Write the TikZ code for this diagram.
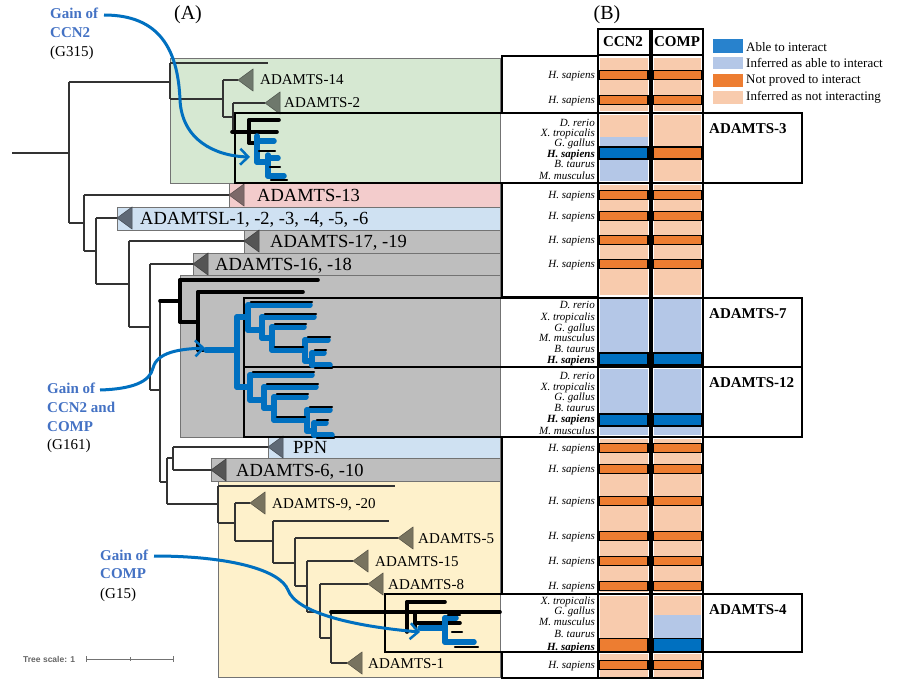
\documentclass[tikz,border=0pt]{standalone}
\usepackage{fontspec}
\setmainfont{Liberation Serif}
\newfontfamily\sansf{Liberation Sans}
\usetikzlibrary{arrows.meta}
\definecolor{grn}{RGB}{214,232,210}
\definecolor{pnk}{RGB}{243,204,204}
\definecolor{lbx}{RGB}{207,225,242}
\definecolor{gry}{RGB}{190,190,190}
\definecolor{ylw}{RGB}{254,241,203}
\definecolor{ablue}{RGB}{0,112,192}
\definecolor{legblue}{RGB}{40,130,205}
\definecolor{ilblue}{RGB}{180,199,231}
\definecolor{npor}{RGB}{237,125,49}
\definecolor{peach}{RGB}{248,203,173}
\definecolor{gaintxt}{RGB}{68,114,196}
\definecolor{trgrn}{RGB}{110,120,108}
\definecolor{trpnk}{RGB}{125,105,105}
\definecolor{trblu}{RGB}{95,105,118}
\definecolor{trgry}{RGB}{85,85,85}
\definecolor{trylw}{RGB}{120,115,95}
\tikzset{
  tr/.style={draw=black!80, line width=1.1pt},
  thk/.style={draw=black, line width=3.6pt, line cap=round},
  thn/.style={draw=black, line width=2.2pt, line cap=round},
  blu/.style={draw=ablue, line width=5.5pt, line cap=round},
  box/.style={draw=black!55, line width=0.7pt},
  bbox/.style={draw=black, line width=2pt},
  lbl/.style={font=\fontsize{18.5}{19}\selectfont, anchor=base west, yshift=-6.2pt, inner sep=0pt},
  slbl/.style={font=\fontsize{15}{15}\selectfont, anchor=base west, yshift=-5pt, inner sep=0pt},
  sp/.style={font=\fontsize{11}{11}\selectfont\itshape, anchor=base east, yshift=-3.6pt, inner sep=0pt},
  spb/.style={font=\fontsize{11}{11}\selectfont\bfseries\itshape, anchor=base east, yshift=-3.6pt, inner sep=0pt},
  hdr/.style={font=\fontsize{15}{15}\selectfont\bfseries, anchor=base, yshift=-5pt, inner sep=0pt},
  rlbl/.style={font=\fontsize{15}{15}\selectfont\bfseries, anchor=base west, yshift=-5pt, inner sep=0pt},
  leg/.style={font=\fontsize{13}{13}\selectfont, anchor=base west, yshift=-4.4pt, inner sep=0pt},
  gtxt/.style={font=\fontsize{15}{15}\selectfont\bfseries, text=gaintxt, anchor=base west, yshift=-5pt, inner sep=0pt},
  gid/.style={font=\fontsize{15}{15}\selectfont, anchor=base west, yshift=-5pt, inner sep=0pt},
  gain/.style={draw=ablue, line width=3pt, -{Straight Barb[length=8pt,width=16pt,line width=2.5pt]}},
}
\newcommand\tri[3]{\filldraw[fill=#3, draw=#3!70!black, line width=0.5pt] (#1,#2) -- ++(15,-11) -- ++(0,22) -- cycle;}
\newcommand\cells[4]{\fill[#3] (600,#1) rectangle (647.5,#2); \fill[#4] (654,#1) rectangle (700.5,#2);}
\newcommand\bars[4]{\filldraw[fill=#3, draw=black, line width=1.1pt] (599.5,#1-#2) rectangle (648,#1+#2);
  \filldraw[fill=#4, draw=black, line width=1.1pt] (653,#1-#2) rectangle (701.5,#1+#2);}
\newcommand\ladder{%
  \draw[blu] (0,0) -- (0,25); \draw[blu] (0,0) -- (62,0);
  \draw[blu] (0,25) -- (14,25); \draw[blu] (14,12) -- (14,33); \draw[blu] (14,12) -- (66,12);
  \draw[blu] (14,33) -- (24,33); \draw[blu] (24,22) -- (24,45); \draw[blu] (24,22) -- (56,22);
  \draw[blu] (24,45) -- (57,45); \draw[blu] (57,35) -- (57,56); \draw[blu] (57,35) -- (80,35);
  \draw[blu] (57,56) -- (64,56); \draw[blu] (64,48) -- (64,60); \draw[blu] (64,48) -- (76,48);
  \draw[blu] (64,60) -- (82,60);
  \draw[thn] (3,-3) -- (64,-3); \draw[thn] (17,9) -- (68,9); \draw[thn] (27,19) -- (58,19);
  \draw[thn] (27,42) -- (55,42); \draw[thn] (60,32) -- (82,32); \draw[thn] (67,45) -- (78,45);
  \draw[thn] (67,63) -- (84,63);
}
\begin{document}
\begin{tikzpicture}[x=1pt,y=-1pt]
\useasboundingbox (0,0) rectangle (899,679);
\fill[white] (0,0) rectangle (899,679);

% ---------- coloured clade boxes ----------
\filldraw[fill=grn, box] (170,58) rectangle (500,183);
\filldraw[fill=pnk, box] (229,183) rectangle (500,207);
\filldraw[fill=lbx, box] (117,207) rectangle (500,230);
\filldraw[fill=gry, box] (244,230) rectangle (500,253);
\filldraw[fill=gry, box] (193,253) rectangle (500,275);
\filldraw[fill=gry, box] (180,275) rectangle (500,437);
\filldraw[fill=lbx, box] (268,437) rectangle (500,458);
\filldraw[fill=gry, box] (211,458) rectangle (500,481);
\filldraw[fill=ylw, box] (218,481) rectangle (500,677);

% ---------- tree (thin) ----------
\draw[tr] (12,153) -- (69,153);
\draw[tr] (69,82) -- (69,223);
\draw[tr] (69,82) -- (170,82);
\draw[tr] (170,63) -- (170,99);
\draw[tr] (170,63) -- (268,63);
\draw[tr] (170,99) -- (223,99);
\draw[tr] (223,80) -- (223,117);
\draw[tr] (223,80) -- (238,80);
\draw[tr] (223,117) -- (233,117);
\draw[tr] (233,103) -- (233,132);
\draw[tr] (233,103) -- (265,103);
\draw[tr] (69,223) -- (84,223);
\draw[tr] (84,195) -- (84,251);
\draw[tr] (84,195) -- (229,195);
\draw[tr] (84,251) -- (96,251);
\draw[tr] (96,218) -- (96,284);
\draw[tr] (96,218) -- (117,218);
\draw[tr] (96,284) -- (129,284);
\draw[tr] (129,241) -- (129,327);
\draw[tr] (129,241) -- (244,241);
\draw[tr] (129,327) -- (150,327);
\draw[tr] (150,264) -- (150,390);
\draw[tr] (150,264) -- (193,264);
\draw[tr] (150,390) -- (160,390);
\draw[tr] (160,301) -- (160,482);
\draw[tr] (160,482) -- (167,482);
\draw[tr] (167,458) -- (167,504);
\draw[tr] (167,458) -- (173,458);
\draw[tr] (173,447) -- (173,470);
\draw[tr] (173,447) -- (268,447);
\draw[tr] (173,470) -- (211,470);
\draw[tr] (167,504) -- (218,504);
\draw[tr] (218,486) -- (218,523);
\draw[tr] (218,486) -- (395,486);
\draw[tr] (218,523) -- (235,523);
\draw[tr] (235,503) -- (235,541);
\draw[tr] (235,503) -- (250,503);
\draw[tr] (235,541) -- (273,541);
\draw[tr] (273,521) -- (273,563);
\draw[tr] (273,521) -- (389,521);
\draw[tr] (273,563) -- (295,563);
\draw[tr] (295,538) -- (295,586);
\draw[tr] (295,538) -- (398,538);
\draw[tr] (295,586) -- (307,586);
\draw[tr] (307,561) -- (307,612);
\draw[tr] (307,561) -- (353,561);
\draw[tr] (307,612) -- (320,612);
\draw[tr] (320,584) -- (320,638);
\draw[tr] (320,584) -- (368,584);
\draw[tr] (320,638) -- (331,638);
\draw[tr] (331,612) -- (331,663);
\draw[tr] (331,663) -- (347,663);

% ---------- collapsed clades ----------
\tri{238}{80}{trgrn}
\tri{265}{103}{trgrn}
\tri{229}{195}{trpnk}
\tri{117}{218}{trblu}
\tri{244}{241}{trgry}
\tri{193}{264}{trgry}
\tri{268}{447}{trblu}
\tri{211}{470}{trgry}
\tri{250}{503}{trylw}
\tri{398}{538}{trylw}
\tri{353}{561}{trylw}
\tri{368}{584}{trylw}
\tri{347}{663}{trylw}

\node[slbl] (l14) at (260,80) {ADAMTS-14};
\node[slbl] (l2) at (284,103) {ADAMTS-2};
\node[lbl] (l13) at (257,195) {ADAMTS-13};
\node[lbl] (lsl) at (140,218) {ADAMTSL-1, -2, -3, -4, -5, -6};
\node[lbl] (l17) at (270,241) {ADAMTS-17, -19};
\node[lbl] (l16) at (215,264) {ADAMTS-16, -18};
\node[lbl] (lppn) at (293,447) {PPN};
\node[lbl] (l6) at (236,470) {ADAMTS-6, -10};
\node[slbl] (l9) at (272,503) {ADAMTS-9, -20};
\node[slbl] (l5) at (418,538) {ADAMTS-5};
\node[slbl] (l15) at (375,561) {ADAMTS-15};
\node[slbl] (l8) at (388,584) {ADAMTS-8};
\node[slbl] (l1) at (368,663) {ADAMTS-1};

% ---------- panel B fills ----------
\cells{58}{111}{peach}{peach}
\cells{115}{181}{peach}{peach}
\fill[ilblue] (600,137) rectangle (647.5,181);
\cells{185}{295}{peach}{peach}
\cells{299}{365}{ilblue}{ilblue}
\cells{369}{435}{ilblue}{ilblue}
\cells{439}{592}{peach}{peach}
\cells{596}{650}{peach}{peach}
\fill[ilblue] (654,615) rectangle (700.5,650);
\cells{654}{677}{peach}{peach}

\bars{75}{4.5}{npor}{npor}
\bars{100}{4.5}{npor}{npor}
\bars{153}{6}{ablue}{npor}
\bars{195}{4.5}{npor}{npor}
\bars{216}{4.5}{npor}{npor}
\bars{240}{4.5}{npor}{npor}
\bars{264}{4.5}{npor}{npor}
\bars{359}{6}{ablue}{ablue}
\bars{420}{6}{ablue}{ablue}
\bars{448}{4.5}{npor}{npor}
\bars{469}{4.5}{npor}{npor}
\bars{501}{4.5}{npor}{npor}
\bars{536}{4.5}{npor}{npor}
\bars{561}{4.5}{npor}{npor}
\bars{586}{4.5}{npor}{npor}
\bars{645}{6.5}{npor}{ablue}
\bars{665}{4.5}{npor}{npor}

% columns
\draw[bbox] (597.5,29) rectangle (649.5,678);
\draw[bbox] (651.5,29) rectangle (702.5,678);
\draw[bbox] (597.5,55) -- (649.5,55);
\draw[bbox] (651.5,55) -- (702.5,55);
\node[hdr] (hc) at (623,42) {CCN2};
\node[hdr] (hp) at (677,42) {COMP};

% species boxes
\draw[bbox] (502,56) rectangle (597.5,113);
\draw[bbox] (502,183) rectangle (597.5,297);
\draw[bbox] (502,437) rectangle (597.5,594);
\draw[bbox] (502,652) rectangle (597.5,678);

% big clade boxes
\draw[bbox] (235,113) rectangle (802,183);
\draw[bbox] (244,298) rectangle (802,367);
\draw[bbox] (244,367) rectangle (802,437);
\draw[bbox] (385,594) rectangle (802,652);

\node[rlbl] (r3) at (709,129) {ADAMTS-3};
\node[rlbl] (r7) at (709,313) {ADAMTS-7};
\node[rlbl] (r12) at (709,382) {ADAMTS-12};
\node[rlbl] (r4) at (709,609) {ADAMTS-4};

% species labels
\node[sp] at (595,75) {H. sapiens};
\node[sp] at (595,100) {H. sapiens};
\node[sp] at (595,123) {D. rerio};
\node[sp] at (595,133) {X. tropicalis};
\node[sp] at (595,143) {G. gallus};
\node[spb] at (595,154) {H. sapiens};
\node[sp] at (595,164) {B. taurus};
\node[sp] at (595,176) {M. musculus};
\node[sp] at (595,195) {H. sapiens};
\node[sp] at (595,216) {H. sapiens};
\node[sp] at (595,240) {H. sapiens};
\node[sp] at (595,264) {H. sapiens};
\node[sp] at (595,305) {D. rerio};
\node[sp] at (595,317) {X. tropicalis};
\node[sp] at (595,328) {G. gallus};
\node[sp] at (595,338) {M. musculus};
\node[sp] at (595,349) {B. taurus};
\node[spb] at (595,360) {H. sapiens};
\node[sp] at (595,376) {D. rerio};
\node[sp] at (595,387) {X. tropicalis};
\node[sp] at (595,397) {G. gallus};
\node[sp] at (595,408) {B. taurus};
\node[spb] at (595,419) {H. sapiens};
\node[sp] at (595,431) {M. musculus};
\node[sp] at (595,448) {H. sapiens};
\node[sp] at (595,469) {H. sapiens};
\node[sp] at (595,501) {H. sapiens};
\node[sp] at (595,536) {H. sapiens};
\node[sp] at (595,561) {H. sapiens};
\node[sp] at (595,586) {H. sapiens};
\node[sp] at (595,601) {X. tropicalis};
\node[sp] at (595,611) {G. gallus};
\node[sp] at (595,622) {M. musculus};
\node[sp] at (595,634) {B. taurus};
\node[spb] at (595,647) {H. sapiens};
\node[sp] at (595,665) {H. sapiens};

% legend
\fill[legblue] (713,39) rectangle (743,53);
\fill[ilblue] (713,57) rectangle (743,69);
\fill[npor] (713,74) rectangle (743,87);
\fill[peach] (713,91) rectangle (743,104);
\node[leg] (g1) at (746,47) {Able to interact};
\node[leg] (g2) at (746,63) {Inferred as able to interact};
\node[leg] (g3) at (746,79) {Not proved to interact};
\node[leg] (g4) at (746,96) {Inferred as not interacting};

% ---------- highlighted subtrees ----------
% ADAMTS-3
\draw[thk] (232,132) -- (277,132);
\draw[thk] (249,120) -- (249,143);
\draw[thk] (249,120) -- (279,120);
\draw[thk] (249,143) -- (256,143);
\draw[blu] (257,136) -- (257,162);
\draw[blu] (257,141) -- (274,141);
\draw[blu] (257,162) -- (268,162);
\draw[blu] (268,155) -- (268,176);
\draw[blu] (268,158) -- (278,158);
\draw[blu] (268,176) -- (284,176);
\draw[thn] (259,151) -- (275,151);
\draw[thn] (270,167) -- (280,167);
\draw[thn] (271,180) -- (287,180);

% ADAMTS-7 / -12
\draw[thk] (160,301) -- (180,301);
\draw[thk] (180,280) -- (180,322);
\draw[thk] (180,280) -- (318,280);
\draw[thk] (180,322) -- (198,322);
\draw[thk] (198,292) -- (198,350);
\draw[thk] (198,292) -- (303,292);
\draw[thk] (198,350) -- (206,350);
\draw[blu] (206,350) -- (237,350);
\draw[blu] (237,317) -- (237,387);
\draw[blu] (237,317) -- (248,317);
\draw[blu] (237,387) -- (250,387);
\begin{scope}[shift={(248,305)}]\ladder\end{scope}
\begin{scope}[shift={(250,375)}]\ladder\end{scope}

% ADAMTS-4
\draw[thk] (331,612) -- (500,612);
\draw[thk] (407,602) -- (407,632);
\draw[thk] (407,602) -- (445,602);
\draw[thk] (415,612) -- (415,627);
\draw[thk] (415,623) -- (460,623);
\draw[blu] (420,628) -- (445,628);
\draw[blu] (445,618) -- (445,642);
\draw[blu] (445,618) -- (456,618);
\draw[blu] (445,642) -- (474,642);
\draw[thn] (448,615) -- (460,615);
\draw[thn] (452,632) -- (462,632);
\draw[thn] (455,647) -- (478,647);

% ---------- gain arrows ----------
\draw[gain] (104,15) .. controls (160,15) and (178,50) .. (180,100) .. controls (182,140) and (215,156) .. (250,157);
\node[gtxt] (ga1) at (50,14) {Gain of};
\node[gtxt] (gb1) at (50,33) {CCN2};
\node[gid] (gc1) at (50,52) {(G315)};

\draw[gain] (100,390) .. controls (132,389) and (150,382) .. (153,368) .. controls (157,352) and (180,349) .. (205,348);
\node[gtxt] (ga2) at (47,388) {Gain of};
\node[gtxt] (gb2) at (47,407) {CCN2 and};
\node[gtxt] (gd2) at (47,426) {COMP};
\node[gid] (gc2) at (47,444) {(G161)};

\draw[gain] (154,556) .. controls (230,556) and (280,570) .. (288,590) .. controls (296,612) and (350,626) .. (420,632);
\node[gtxt] (ga3) at (100,555) {Gain of};
\node[gtxt] (gb3) at (100,573) {COMP};
\node[gid] (gc3) at (100,593) {(G15)};

% ---------- panel labels & scale ----------
\node[font=\fontsize{20}{20}\selectfont, inner sep=0pt] (pa) at (188,15) {(A)};
\node[font=\fontsize{20}{20}\selectfont, inner sep=0pt] (pb) at (607,15) {(B)};
\node[font=\sansf\bfseries\fontsize{8.5}{9}\selectfont, text=black!60, anchor=west, inner sep=0pt] (ts) at (23,659) {Tree scale: 1};
\draw[black!55, line width=0.8pt] (86,659) -- (173,659);
\draw[black!55, line width=0.8pt] (86,656) -- (86,662);
\draw[black!55, line width=0.8pt] (130,657) -- (130,661);
\draw[black!55, line width=0.8pt] (173,656) -- (173,662);
\end{tikzpicture}
\end{document}
